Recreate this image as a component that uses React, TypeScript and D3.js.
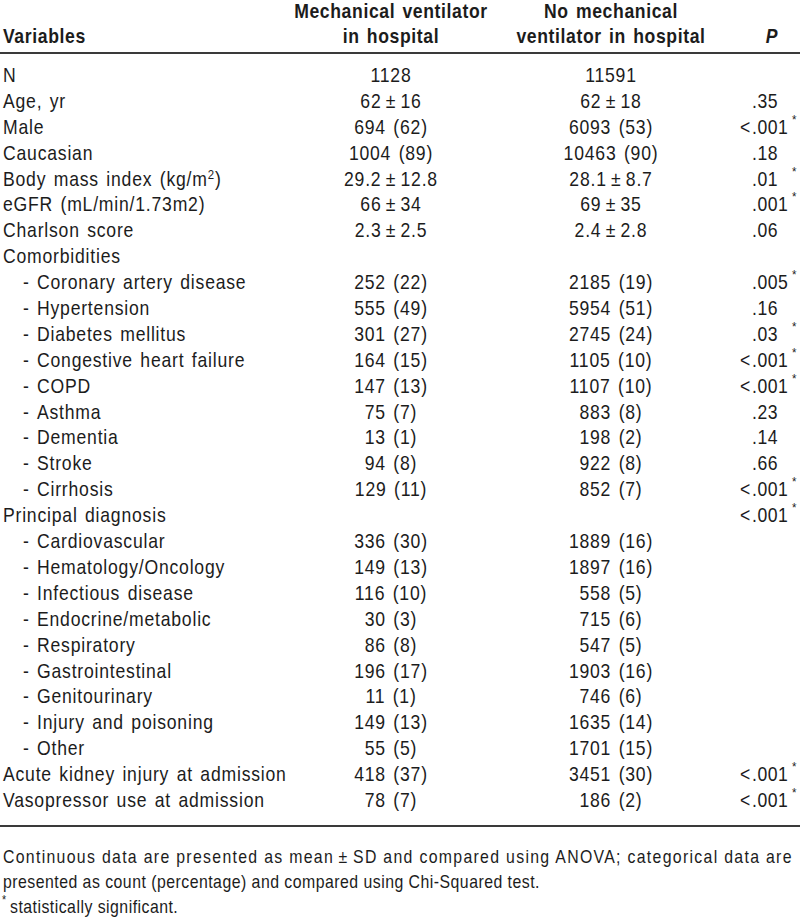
import { useEffect, useRef } from 'react';
import * as d3 from 'd3';

const rowLabels = [
    'N', 'Age, yr', 'Male', 'Caucasian', 'Body mass index (kg/m^2)', 'eGFR (mL/min/1.73m2)',
    'Charlson score', 'Comorbidities', '- Coronary artery disease', '- Hypertension',
    '- Diabetes mellitus', '- Congestive heart failure', '- COPD', '- Asthma', '- Dementia',
    '- Stroke', '- Cirrhosis', 'Principal diagnosis', '- Cardiovascular', '- Hematology/Oncology',
    '- Infectious disease', '- Endocrine/metabolic', '- Respiratory', '- Gastrointestinal',
    '- Genitourinary', '- Injury and poisoning', '- Other', 'Acute kidney injury at admission',
    'Vasopressor use at admission'
];

const ventilated = [
    '1128', '62±16', '694 (62)', '1004 (89)', '29.2±12.8', '66±34', '2.3±2.5', '',
    '252 (22)', '555 (49)', '301 (27)', '164 (15)', '147 (13)', '75 (7)', '13 (1)', '94 (8)',
    '129 (11)', '', '336 (30)', '149 (13)', '116 (10)', '30 (3)', '86 (8)', '196 (17)',
    '11 (1)', '149 (13)', '55 (5)', '418 (37)', '78 (7)'
];

const notVentilated = [
    '11591', '62±18', '6093 (53)', '10463 (90)', '28.1±8.7', '69±35', '2.4±2.8', '',
    '2185 (19)', '5954 (51)', '2745 (24)', '1105 (10)', '1107 (10)', '883 (8)', '198 (2)',
    '922 (8)', '852 (7)', '', '1889 (16)', '1897 (16)', '558 (5)', '715 (6)', '547 (5)',
    '1903 (16)', '746 (6)', '1635 (14)', '1701 (15)', '3451 (30)', '186 (2)'
];

// '*' marks statistically significant
const pValues = [
    '', '.35', '<.001*', '.18', '.01*', '.001*', '.06', '', '.005*', '.16', '.03*', '<.001*',
    '<.001*', '.23', '.14', '.66', '<.001*', '<.001*', '', '', '', '', '', '', '', '', '',
    '<.001*', '<.001*'
];

const headers = [
    ['Mechanical ventilator', 'in hospital'],
    ['No mechanical', 'ventilator in hospital']
];

const footnotes = [
    'Continuous data are presented as mean\u2009±\u2009SD and compared using ANOVA; categorical data are',
    'presented as count (percentage) and compared using Chi-Squared test.',
    'statistically significant.'
];

const FONT = '"Liberation Sans", Arial, Helvetica, sans-serif';
const INK = '#1c1c1c';
const SX = 0.88; // horizontal squeeze to mimic a condensed face

export default function App() {
    const svgRef = useRef<SVGSVGElement>(null);

    useEffect(() => {
        document.body.style.margin = '0';
        if (!svgRef.current) return;
        const svg = d3.select(svgRef.current);
        svg.selectAll('*').remove();

        const fmt = (s: string) => s.replace('±', '\u2009±\u2009');
        const xs = (v: number) => v / SX;

        const y = d3.scaleLinear().domain([0, rowLabels.length - 1]).range([82, 807]);
        const colX = d3.scaleOrdinal<string, number>()
            .domain(['label', 'vent', 'noVent', 'p', 'star'])
            .range([3, 391, 611, 752, 792]);

        // rules
        [53, 826].forEach(ry => {
            svg.append('line')
                .attr('x1', 0).attr('x2', 800)
                .attr('y1', ry).attr('y2', ry)
                .attr('stroke', '#3a3a3a')
                .attr('stroke-width', 2);
        });

        const g = svg.append('g')
            .attr('transform', `scale(${SX},1)`)
            .style('font-family', FONT)
            .style('fill', INK);

        // header
        const head = g.append('g')
            .style('font-weight', 'bold')
            .style('font-size', '20px')
            .style('letter-spacing', '0.7px');
        head.append('text').attr('x', xs(colX('label'))).attr('y', 43).text('Variables');
        headers.forEach((lines, i) => {
            const cx = colX(i === 0 ? 'vent' : 'noVent');
            lines.forEach((line, j) => {
                head.append('text')
                    .attr('x', xs(cx))
                    .attr('y', 18 + j * 25)
                    .attr('text-anchor', 'middle')
                    .style('word-spacing', '2px')
                    .text(line);
            });
        });
        head.append('text')
            .attr('x', xs(772))
            .attr('y', 43)
            .attr('text-anchor', 'middle')
            .style('font-style', 'italic')
            .text('P');

        const body = g.append('g')
            .style('font-size', '20px')
            .style('letter-spacing', '0.9px')
            .style('word-spacing', '2px');

        rowLabels.forEach((label, i) => {
            const by = y(i);
            const indent = label.startsWith('- ');
            const text = indent ? label.slice(2) : label;
            if (indent) {
                body.append('text').attr('x', xs(23)).attr('y', by).text('-');
            }
            const t = body.append('text')
                .attr('x', xs(indent ? 37 : colX('label')))
                .attr('y', by);
            if (text.includes('^')) {
                const [a, rest] = text.split('^');
                t.append('tspan').text(a);
                t.append('tspan').attr('dy', -7).style('font-size', '13px').text(rest[0]);
                t.append('tspan').attr('dy', 7).text(rest.slice(1));
            } else {
                t.text(text);
            }

            body.append('text')
                .attr('x', xs(colX('vent')))
                .attr('y', by)
                .attr('text-anchor', 'middle')
                .text(fmt(ventilated[i]));
            body.append('text')
                .attr('x', xs(colX('noVent')))
                .attr('y', by)
                .attr('text-anchor', 'middle')
                .text(fmt(notVentilated[i]));

            const p = pValues[i];
            if (p) {
                const star = p.endsWith('*');
                const v = star ? p.slice(0, -1) : p;
                const dot = v.indexOf('.');
                if (dot > 0) {
                    body.append('text')
                        .attr('x', xs(colX('p') - 1))
                        .attr('y', by)
                        .attr('text-anchor', 'end')
                        .text(v.slice(0, dot));
                }
                body.append('text')
                    .attr('x', xs(colX('p')))
                    .attr('y', by)
                    .style('letter-spacing', '0.6px')
                    .text(v.slice(dot));
                if (star) {
                    body.append('text')
                        .attr('x', xs(colX('star')))
                        .attr('y', by - 10)
                        .style('font-size', '13px')
                        .text('*');
                }
            }
        });

        // footnotes
        const foot = g.append('g')
            .style('font-size', '18px')
            .style('letter-spacing', '0.55px');
        foot.append('text')
            .attr('x', xs(3)).attr('y', 863)
            .attr('textLength', xs(789))
            .attr('lengthAdjust', 'spacing')
            .text(footnotes[0]);
        foot.append('text').attr('x', xs(3)).attr('y', 888).text(footnotes[1]);
        foot.append('text').attr('x', xs(2)).attr('y', 904).style('font-size', '12px').text('*');
        foot.append('text').attr('x', xs(10)).attr('y', 913).text(footnotes[2]);
    }, []);

    return (
        <svg ref={svgRef} width={800} height={923} style={{ display: 'block', background: '#fff' }} />
    );
}
